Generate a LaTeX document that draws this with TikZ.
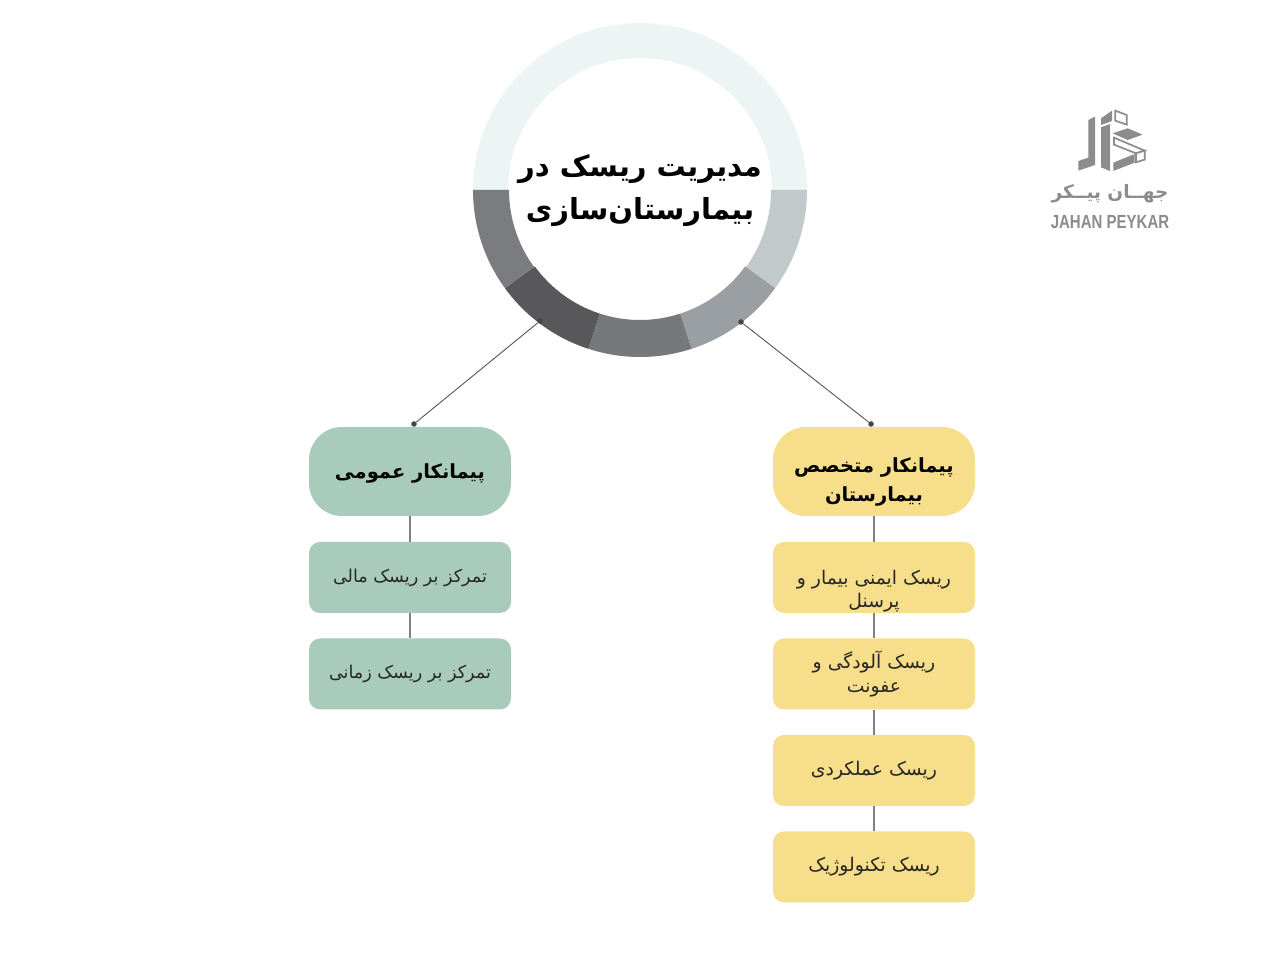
\documentclass[tikz,border=0pt]{standalone}
\usepackage{fontspec}
\setmainfont{DejaVu Sans}
\newfontfamily\farsi[Script=Arabic]{DejaVu Sans}
\newfontfamily\farsibold[Script=Arabic]{DejaVu Sans Bold}
\setsansfont{Liberation Sans}
\TeXXeTstate=1
\newcommand{\fa}[1]{\beginR #1\endR}
\newcommand{\down}[1]{\rule{0pt}{#1pt}}
\definecolor{ringtop}{HTML}{ECF4F4}
\definecolor{ringa}{HTML}{C2C9CB}
\definecolor{ringb}{HTML}{9A9FA3}
\definecolor{ringc}{HTML}{77787B}
\definecolor{ringd}{HTML}{58585B}
\definecolor{ringe}{HTML}{7B7C7F}
\definecolor{greenbox}{HTML}{A9CBBB}
\definecolor{yellowbox}{HTML}{F7DE8B}
\definecolor{linegrey}{HTML}{555555}
\definecolor{logogrey}{HTML}{8C8C8C}
\tikzset{
  headbox/.style={minimum width=202pt,minimum height=89pt,rounded corners=33pt,inner sep=0pt,align=center,
    font=\farsibold\fontsize{19.5}{29}\selectfont,text=black},
  subbox/.style={minimum width=202pt,minimum height=71pt,rounded corners=11pt,inner sep=0pt,align=center,
    text=black!85},
  subgreen/.style={subbox,fill=greenbox,font=\farsi\fontsize{17.6}{23.5}\selectfont},
  subyellow/.style={subbox,fill=yellowbox,font=\farsi\fontsize{18.8}{23.5}\selectfont},
  link/.style={draw=linegrey,line width=0.9pt},
  stem/.style={draw=black!50,line width=1.1pt},
  linkdot/.style={circle,fill=linegrey!80!black,inner sep=0pt,minimum size=5.5pt},
  logopart/.style={fill=logogrey,draw=none},
  logoline/.style={draw=logogrey,line width=1.7pt,fill=white},
}
\begin{document}
\begin{tikzpicture}[x=1pt,y=1pt]
  \useasboundingbox (0,0) rectangle (1280,960);
  % ring
  \begin{scope}[shift={(640,770)}]
    \fill[ringtop] (0:167) arc (0:180:167) -- (180:132) arc (180:0:132) -- cycle;
    \fill[ringa] (0:167) arc (0:-36:167) -- (-36:131) arc (-36:0:131) -- cycle;
    \fill[ringb] (-36:167) arc (-36:-72:167) -- (-72:130) arc (-72:-36:130) -- cycle;
    \fill[ringc] (-72:167) arc (-72:-108:167) -- (-108:130) arc (-108:-72:130) -- cycle;
    \fill[ringd] (-108:167) arc (-108:-144:167) -- (-144:130) arc (-144:-108:130) -- cycle;
    \fill[ringe] (-144:167) arc (-144:-180:167) -- (-180:131) arc (-180:-144:131) -- cycle;
  \end{scope}
  \node[font=\farsibold\fontsize{29}{43}\selectfont,align=center,inner sep=0pt] (title) at (640,769)
    {\fa{مدیریت ریسک در}\\\fa{بیمارستان‌سازی}};
  % left column
  \node[headbox,fill=greenbox] (general) at (410,488.5) {\down{18}\fa{پیمانکار عمومی}};
  \node[subgreen] (generala) at (410,382.5) {\fa{تمرکز بر ریسک مالی}};
  \node[subgreen] (generalb) at (410,286) {\fa{تمرکز بر ریسک زمانی}};
  % right column
  \node[headbox,fill=yellowbox] (expert) at (874,488.5) {\down{36}\fa{پیمانکار متخصص}\\\fa{بیمارستان}};
  \node[subyellow] (experta) at (874,382.5) {\down{42}\fa{ریسک ایمنی بیمار و}\\\fa{پرسنل}};
  \node[subyellow] (expertb) at (874,286) {\fa{ریسک آلودگی و}\\\fa{عفونت}};
  \node[subyellow] (expertc) at (874,189.5) {\fa{ریسک عملکردی}};
  \node[subyellow] (expertd) at (874,93) {\fa{ریسک تکنولوژیک}};
  % connectors
  \node[linkdot] (ringl) at (540,639) {};
  \node[linkdot] (ringr) at (741,638) {};
  \node[linkdot] (headl) at (414,536) {};
  \node[linkdot] (headr) at (871,536) {};
  \draw[link] (ringl) -- (headl);
  \draw[link] (ringr) -- (headr);
  \draw[stem] (general) -- (generala);
  \draw[stem] (generala) -- (generalb);
  \draw[stem] (expert) -- (experta);
  \draw[stem] (experta) -- (expertb);
  \draw[stem] (expertb) -- (expertc);
  \draw[stem] (expertc) -- (expertd);
  % logo
  \begin{scope}[shift={(1030,870)},x=0.3333pt,y=-0.3333pt]
    \fill[logopart] (175,90) -- (195,80) -- (195,225) -- (145,242) -- (145,213) -- (175,203) -- cycle;
    \fill[logopart] (213,85) -- (246,62) -- (246,93) -- (213,105) -- cycle;
    \fill[logopart] (213,112) -- (240,102) -- (240,243) -- (213,232) -- cycle;
    \draw[logoline] (256,62) -- (290,75) -- (290,104) -- (256,92) -- cycle;
    \fill[logopart] (248,130) -- (293,115) -- (338,134) -- (293,150) -- cycle;
    \draw[logoline] (252,143) -- (344,182) -- (318,190) -- (252,164) -- cycle;
    \draw[logoline] (318,190) -- (344,182) -- (344,209) -- (318,217) -- cycle;
    \fill[logopart] (250,218) -- (314,192) -- (314,218) -- (250,243) -- cycle;
  \end{scope}
  \node[font=\farsibold\fontsize{18.5}{20}\selectfont,text=logogrey,inner sep=0pt] (logofa) at (1110,766) {\fa{جهــان پیــکر}};
  \node[font=\sffamily\bfseries\fontsize{19}{22}\selectfont,text=logogrey,inner sep=0pt,xscale=0.79] (logoen) at (1110,738) {JAHAN PEYKAR};
\end{tikzpicture}
\end{document}
